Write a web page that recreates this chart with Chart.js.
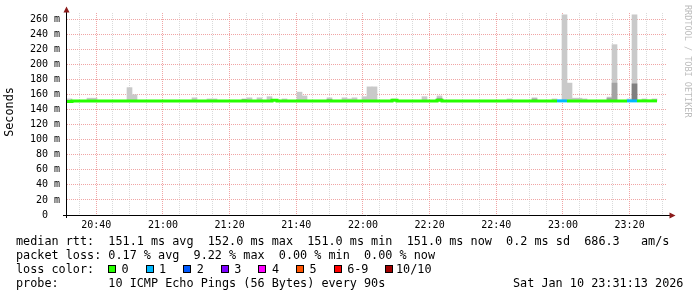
<!DOCTYPE html>
<html><head><meta charset="utf-8">
<script src="https://cdn.jsdelivr.net/npm/chart.js@4/dist/chart.umd.min.js"></script>
<style>
html,body{margin:0;padding:0;background:#fff;}
#wrap{position:relative;width:697px;height:297px;overflow:hidden;background:#fff;}
canvas{position:absolute;left:0;top:0;}
.row,.lab{position:absolute;font:11.8px 'DejaVu Sans Mono',monospace;line-height:14px;white-space:pre;color:#000;}
.box{position:absolute;width:6px;height:6px;border:1px solid #000;}
</style></head>
<body><div id="wrap"><canvas id="c" width="697" height="297"></canvas></div>
<script>
// ---------- data ----------
// time axis: minutes after 20:00; graph starts 20:31:13, 90 s probe step
const startMinute = 31 + 13 / 60;
const stepMinutes = 1.5;
const spanMinutes = 180;
const timeTickValues = [40, 60, 80, 100, 120, 140, 160, 180, 200];
const timeTickLabels = ['20:40', '21:00', '21:20', '21:40', '22:00', '22:20', '22:40', '23:00', '23:20'];
const yTickValues = [0, 20, 40, 60, 80, 100, 120, 140, 160, 180, 200, 220, 240, 260];
const yTickLabels = ['0  ', '20 m', '40 m', '60 m', '80 m', '100 m', '120 m', '140 m', '160 m', '180 m', '200 m', '220 m', '240 m', '260 m'];

// median RTT per 90 s slot (ms)
const medianRtt = [
  150.6, 151.4, 151.4, 151.4, 151.4, 151.4, 151.4, 151.4, 151.4, 151.4,
  151.4, 151.4, 151.4, 151.4, 151.4, 151.4, 151.4, 151.4, 151.4, 151.4,
  151.4, 151.4, 151.4, 151.4, 151.4, 151.4, 151.4, 151.4, 151.4, 151.4,
  151.4, 151.4, 151.4, 151.4, 151.4, 151.4, 151.4, 151.4, 151.4, 151.4,
  151.4, 152.4, 151.4, 151.4, 151.4, 151.4, 151.4, 151.4, 151.4, 151.4,
  151.4, 151.4, 151.4, 151.4, 151.4, 151.4, 151.4, 151.4, 151.4, 151.4,
  151.4, 151.4, 151.4, 151.4, 151.4, 152.4, 151.4, 151.4, 151.4, 151.4,
  151.4, 151.4, 151.4, 151.4, 152.4, 151.4, 151.4, 151.4, 151.4, 151.4,
  151.4, 151.4, 151.4, 151.4, 151.4, 151.4, 151.4, 151.4, 151.4, 151.4,
  151.4, 151.4, 151.4, 151.4, 151.4, 151.4, 151.4, 151.4, 151.4, 151.4,
  151.4, 151.4, 151.4, 151.4, 151.4, 151.4, 151.4, 151.4, 151.4, 151.4,
  151.4, 151.4, 151.4, 151.4, 151.4, 151.4, 151.4, 151.4
];
// lost pings (of 10) per slot
const lostPings = [
  0,0,0,0,0,0,0,0,0,0, 0,0,0,0,0,0,0,0,0,0, 0,0,0,0,0,0,0,0,0,0,
  0,0,0,0,0,0,0,0,0,0, 0,0,0,0,0,0,0,0,0,0, 0,0,0,0,0,0,0,0,0,0,
  0,0,0,0,0,0,0,0,0,0, 0,0,0,0,0,0,0,0,0,0, 0,0,0,0,0,0,0,0,0,0,
  0,0,0,0,0,0,0,0,1,1, 0,0,0,0,0,0,0,0,0,0, 0,0,1,1,0,0,0,0
];
// smoke: max RTT (light), denser band (mid), densest band (dark)
const smokeMax = [
  154, null, null, null, 155, 155, null, null, null, null,
  null, null, 169, 159.5, null, null, null, null, null, null,
  null, null, null, null, null, 155.5, null, null, 154, 154,
  null, null, null, null, null, 154, 155.5, null, 155.5, null,
  157, null, null, 154, null, null, 163, 158, null, null,
  null, null, 155.5, null, null, 155.5, 154, 155.5, null, 157,
  170, 170, null, null, null, 154, null, null, null, null,
  null, 157, null, null, 158, null, null, null, null, null,
  null, null, null, null, null, null, null, null, 154, null,
  null, null, null, 155.5, null, null, null, 154, null, 265.6,
  175, 155, 155, 154, null, null, null, null, 156.5, 226,
  null, null, 154, 265.6, null, 154, null, 154
];
const smokeMid = [
  null, null, null, null, null, null, null, null, null, null,
  null, null, null, null, null, null, null, null, null, null,
  null, null, null, null, null, null, null, null, null, null,
  null, null, null, null, null, 153.5, null, null, null, null,
  null, null, null, null, null, null, null, null, null, null,
  null, null, 153.5, null, null, null, null, null, null, null,
  null, null, null, null, null, null, null, null, null, null,
  null, null, null, null, 155, null, null, null, null, null,
  null, null, null, null, null, null, null, null, null, null,
  null, null, null, 154, null, null, null, null, null, null,
  null, null, null, null, null, null, null, null, 155, 175,
  null, null, null, null, null, null, null, null
];
const smokeDark = [
  null, null, null, null, null, null, null, null, null, null,
  null, null, null, null, null, null, null, null, null, null,
  null, null, null, null, null, null, null, null, null, null,
  null, null, null, null, null, null, null, null, null, null,
  null, null, null, null, null, null, null, null, null, null,
  null, null, null, null, null, null, null, null, null, null,
  null, null, null, null, null, null, null, null, null, null,
  null, null, null, null, null, null, null, null, null, null,
  null, null, null, null, null, null, null, null, null, null,
  null, null, null, null, null, null, null, null, null, null,
  null, null, null, null, null, null, null, null, null, null,
  null, null, null, 174, null, null, null, null
];
// legend
const lossLabels = ['0', '1', '2', '3', '4', '5', '6-9', '10/10'];
const lossColors = ['#26ff00', '#00b8ff', '#0059ff', '#7e00ff', '#ff00ff', '#ff5500', '#ff0000', '#a10000'];
const rttStats = ['151.1 ms avg', '152.0 ms max', '151.0 ms min', '151.0 ms now', '0.2 ms sd', '686.3   am/s'];
const lossStats = ['0.17 % avg', '9.22 % max', '0.00 % min', '0.00 % now'];
const probeText = '10 ICMP Echo Pings (56 Bytes) every 90s';
const stampText = 'Sat Jan 10 23:31:13 2026';

// ---------- build ----------
function lossColorFor(n) {
  if (n <= 0) return lossColors[0];
  if (n <= 5) return lossColors[n];
  if (n < 10) return lossColors[6];
  return lossColors[7];
}
const slotCenter = k => startMinute + stepMinutes * (k + 0.5);
const barData = arr => arr.map((v, k) => ({ x: slotCenter(k), y: v == null ? null : [medianRtt[k], v] }));
const lineData = medianRtt.map((v, k) => ({ x: startMinute + stepMinutes * k, y: v }));
lineData.push({ x: startMinute + stepMinutes * medianRtt.length, y: medianRtt[medianRtt.length - 1] });

const MONO = "'DejaVu Sans Mono'";
Chart.defaults.font.family = MONO;

const extras = {
  id: 'extras',
  afterDraw(chart) {
    const ctx = chart.ctx, a = chart.chartArea;
    ctx.save();
    ctx.strokeStyle = '#000'; ctx.lineWidth = 1;
    ctx.beginPath();
    ctx.moveTo(63, a.bottom + 0.5); ctx.lineTo(670, a.bottom + 0.5);
    ctx.moveTo(a.left - 0.5, a.bottom + 3); ctx.lineTo(a.left - 0.5, 11);
    ctx.stroke();
    ctx.fillStyle = '#8b1a1a';
    ctx.beginPath(); ctx.moveTo(a.left - 0.5, 6.5); ctx.lineTo(a.left - 3.5, 12.5); ctx.lineTo(a.left + 2.5, 12.5); ctx.closePath(); ctx.fill();
    ctx.beginPath(); ctx.moveTo(675.5, a.bottom + 0.5); ctx.lineTo(669.5, a.bottom - 2.5); ctx.lineTo(669.5, a.bottom + 3.5); ctx.closePath(); ctx.fill();
    ctx.restore();
    ctx.save();
    ctx.fillStyle = '#000'; ctx.font = '11.8px ' + MONO;
    ctx.translate(10, 112); ctx.rotate(-Math.PI / 2);
    ctx.textAlign = 'center'; ctx.textBaseline = 'middle';
    ctx.fillText('Seconds', 0, 0);
    ctx.restore();
    ctx.save();
    ctx.fillStyle = '#bdbdbd'; ctx.font = '8.5px ' + MONO;
    ctx.translate(687.5, 5); ctx.rotate(Math.PI / 2);
    ctx.textAlign = 'left'; ctx.textBaseline = 'middle';
    ctx.fillText('RRDTOOL / TOBI OETIKER', 0, 0);
    ctx.restore();
  }
};

const MINOR = 'rgb(218,218,218)', MAJOR = 'rgb(240,165,165)';
const gridColor = (c, majors) => {
  const v = c && c.tick ? c.tick.value : NaN;
  return majors.indexOf(v) >= 0 ? MAJOR : MINOR;
};
new Chart(document.getElementById('c'), {
  type: 'bar',
  data: {
    datasets: [
      { type: 'line', data: lineData, order: 0, stepped: 'before', borderWidth: 3, pointRadius: 0,
        borderColor: lossColors[0], borderCapStyle: 'butt', fill: false,
        segment: { borderColor: c => lossColorFor(lostPings[Math.min(c.p0DataIndex, lostPings.length - 1)]) } },
      { data: barData(smokeDark), order: 1, backgroundColor: '#7f7f7f', grouped: false, barPercentage: 1, categoryPercentage: 1, borderWidth: 0 },
      { data: barData(smokeMid), order: 2, backgroundColor: '#a3a3a3', grouped: false, barPercentage: 1, categoryPercentage: 1, borderWidth: 0 },
      { data: barData(smokeMax), order: 3, backgroundColor: '#c9c9c9', grouped: false, barPercentage: 1, categoryPercentage: 1, borderWidth: 0 }
    ]
  },
  options: {
    responsive: false, devicePixelRatio: 1, animation: false,
    layout: { padding: { left: 0, right: 30, top: 13, bottom: 0 } },
    plugins: { legend: { display: false }, tooltip: { enabled: false } },
    scales: {
      x: {
        type: 'linear', min: startMinute, max: startMinute + spanMinutes, offset: false,
        afterBuildTicks: s => {
          const t = [];
          for (let v = 35; v <= 210; v += 5) t.push({ value: v });
          s.ticks = t;
        },
        afterFit: s => { s.height = 82; },
        grid: { offset: false, drawTicks: false, color: c => gridColor(c, timeTickValues) },
        border: { display: false, dash: [1, 1] },
        ticks: {
          autoSkip: false, maxRotation: 0, padding: 4, color: '#000', font: { size: 10, family: MONO },
          callback: v => { const i = timeTickValues.indexOf(v); return i >= 0 ? timeTickLabels[i] : ''; }
        }
      },
      y: {
        min: 0, max: 268,
        afterBuildTicks: s => {
          const t = [];
          for (let v = 0; v <= 260; v += 10) t.push({ value: v });
          s.ticks = t;
        },
        afterFit: s => { s.width = 67; },
        grid: { drawTicks: false, color: c => gridColor(c, yTickValues) },
        border: { display: false, dash: [1, 1] },
        ticks: {
          padding: 7, color: '#000', font: { size: 10, family: MONO },
          callback: v => { const i = yTickValues.indexOf(v); return i >= 0 ? yTickLabels[i] : ''; }
        }
      }
    }
  },
  plugins: [extras]
});

// ---------- text legend below the plot ----------
const wrap = document.getElementById('wrap');
function addText(txt, left, top, cls) {
  const d = document.createElement('div');
  d.className = cls || 'row'; d.textContent = txt;
  d.style.left = left + 'px'; d.style.top = top + 'px';
  wrap.appendChild(d); return d;
}
addText('median rtt:  ' + rttStats.join('  '), 16, 234);
addText('packet loss: ' + lossStats.join('  '), 16, 248);
addText('loss color:', 16, 262);
let bx = 108;
lossLabels.forEach((lab, i) => {
  const b = document.createElement('div');
  b.className = 'box'; b.style.left = bx + 'px'; b.style.top = '265px'; b.style.background = lossColors[i];
  wrap.appendChild(b);
  const gap = i === lossLabels.length - 1 ? 10.5 : 13.5;
  const t = addText(lab, bx + gap, 262, 'lab');
  bx = bx + 13.5 + t.getBoundingClientRect().width + 17;
});
addText('probe:       ' + probeText, 16, 276);
addText(stampText, 513, 276);
</script>
</body></html>
